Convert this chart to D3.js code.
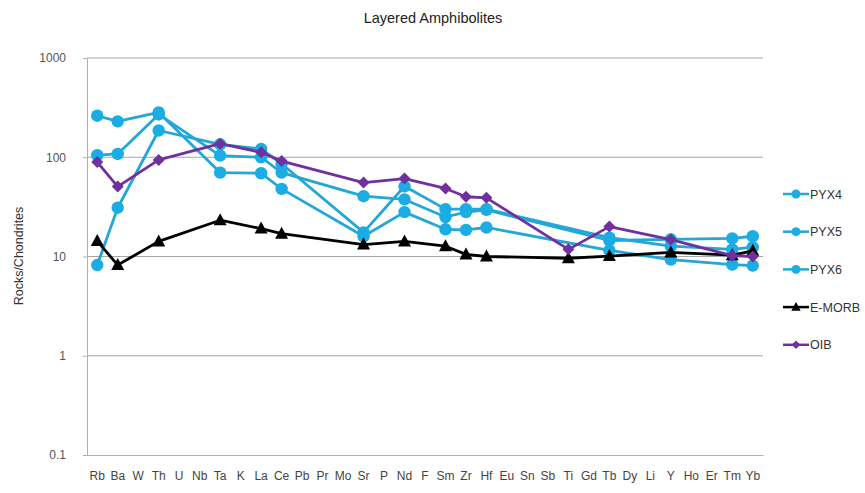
<!DOCTYPE html>
<html>
<head>
<meta charset="utf-8">
<script src="https://cdn.jsdelivr.net/npm/d3@7"></script>
<style>
  html, body { margin: 0; padding: 0; background: #fff; }
  svg { display: block; font-family: "Liberation Sans", Arial, sans-serif; }
</style>
</head>
<body>
<svg id="chart" width="865" height="493"></svg>
<script>
// Elements along the spider-diagram x axis
const elements = ["Rb","Ba","W","Th","U","Nb","Ta","K","La","Ce","Pb","Pr","Mo","Sr","P","Nd","F",
  "Sm","Zr","Hf","Eu","Sn","Sb","Ti","Gd","Tb","Dy","Li","Y","Ho","Er","Tm","Yb"];

// Chondrite-normalised values (null = not analysed)
const pyx4 = [262,230,null,283,null,null,70,null,69,48,null,null,null,16,null,28,null,
  18.8,18.5,19.6,null,null,null,null,null,11.5,null,null,9.3,null,null,8.3,8.1];
const pyx5 = [105,108,null,270,null,null,104,null,100,70,null,null,null,40.5,null,37.6,null,
  25,28,29.5,null,null,null,null,null,14.5,null,null,14.9,null,null,15.2,16];
const pyx6 = [8.2,31,null,186,null,null,135,null,121,86,null,null,null,17.5,null,51,null,
  30,30,30,null,null,null,null,null,15.5,null,null,12.7,null,null,11.8,12.4];
const emorb = [14.3,8.2,null,14.2,null,null,23.2,null,19.1,17.0,null,null,null,13.2,null,14.2,null,
  12.7,10.5,10.0,null,null,null,9.6,null,10.1,null,null,11.0,null,null,10.3,11.4];
const oib = [89.5,50.6,null,94,null,null,137,null,112,91.6,null,null,null,55.6,null,61,null,
  48.5,40,39,null,null,null,11.8,null,20,null,null,14.8,null,null,10.2,10];

const yTicks = [0.1, 1, 10, 100, 1000];
const seriesNames = ["PYX4","PYX5","PYX6","E-MORB","OIB"];

const series = [
  { name: seriesNames[0], values: pyx4, color: "#1AACE2", line: "#22A7D8", shape: "circle" },
  { name: seriesNames[1], values: pyx5, color: "#1AACE2", line: "#22A7D8", shape: "circle" },
  { name: seriesNames[2], values: pyx6, color: "#1AACE2", line: "#22A7D8", shape: "circle" },
  { name: seriesNames[3], values: emorb, color: "#000000", line: "#000000", shape: "triangle" },
  { name: seriesNames[4], values: oib, color: "#7030A0", line: "#7030A0", shape: "diamond" }
];

const svg = d3.select("#chart");
const plot = { left: 87, right: 763, top: 58, bottom: 455 };

const x = d3.scaleBand().domain(elements).range([plot.left, plot.right]);
const y = d3.scaleLog().domain([0.1, 1000]).range([plot.bottom, plot.top]);

// Title
svg.append("text")
  .attr("x", 433).attr("y", 23)
  .attr("text-anchor", "middle")
  .attr("font-size", 14.5)
  .attr("fill", "#222")
  .text("Layered Amphibolites");

// Horizontal gridlines
svg.append("g").selectAll("line")
  .data(yTicks.filter(t => t > 0.1))
  .join("line")
  .attr("x1", plot.left).attr("x2", plot.right)
  .attr("y1", d => y(d)).attr("y2", d => y(d))
  .attr("stroke", "#a6a6a6").attr("stroke-width", 1);

// Y axis
const yAxis = d3.axisLeft(y).tickValues(yTicks).tickFormat(d => String(d)).tickSize(4).tickPadding(17);
const gy = svg.append("g").attr("transform", `translate(${plot.left},0)`).call(yAxis);
gy.select(".domain").attr("stroke", "#b0b0b0");
gy.selectAll(".tick line").attr("stroke", "#b0b0b0");
gy.selectAll(".tick text").attr("font-size", 12).attr("fill", "#555")
  .attr("font-family", "Liberation Sans, Arial, sans-serif");

// X axis
const xAxis = d3.axisBottom(x).tickSize(0).tickPadding(16);
const gx = svg.append("g").attr("transform", `translate(0,${plot.bottom})`).call(xAxis);
gx.select(".domain").attr("stroke", "#b0b0b0");
gx.selectAll(".tick text").attr("font-size", 12).attr("fill", "#444")
  .attr("font-family", "Liberation Sans, Arial, sans-serif");

// Y axis title
svg.append("text")
  .attr("transform", "translate(23,256) rotate(-90)")
  .attr("text-anchor", "middle")
  .attr("font-size", 12.5)
  .attr("fill", "#333")
  .text("Rocks/Chondrites");

const cx = e => x(e) + x.bandwidth() / 2;

function drawMarker(g, shape, color, px, py, k = 1) {
  if (shape === "circle") {
    g.append("circle").attr("cx", px).attr("cy", py).attr("r", 6.2 * k).attr("fill", color);
  } else if (shape === "triangle") {
    g.append("path").attr("d", `M${px},${py - 7 * k} L${px + 6.5 * k},${py + 5 * k} L${px - 6.5 * k},${py + 5 * k} Z`).attr("fill", color);
  } else {
    g.append("path").attr("d", `M${px},${py - 6 * k} L${px + 6 * k},${py} L${px},${py + 6 * k} L${px - 6 * k},${py} Z`).attr("fill", color);
  }
}

const line = d3.line().x(d => cx(d.el)).y(d => y(d.v));

series.forEach(s => {
  const pts = elements.map((el, i) => ({ el, v: s.values[i] })).filter(d => d.v != null);
  const g = svg.append("g");
  g.append("path").datum(pts)
    .attr("d", line)
    .attr("fill", "none")
    .attr("stroke", s.line)
    .attr("stroke-width", 2.8)
    .attr("stroke-linejoin", "round");
  pts.forEach(d => drawMarker(g, s.shape, s.color, cx(d.el), y(d.v)));
});

// Legend
const legend = svg.append("g");
series.forEach((s, i) => {
  const ly = 194 + i * 37.7;
  legend.append("line")
    .attr("x1", 783).attr("x2", 809).attr("y1", ly).attr("y2", ly)
    .attr("stroke", s.line).attr("stroke-width", 2.5);
  drawMarker(legend, s.shape, s.color, 796, ly, 0.72);
  legend.append("text")
    .attr("x", 810).attr("y", ly + 4.5)
    .attr("font-size", 12.5)
    .attr("fill", "#333")
    .text(s.name);
});
</script>
</body>
</html>
